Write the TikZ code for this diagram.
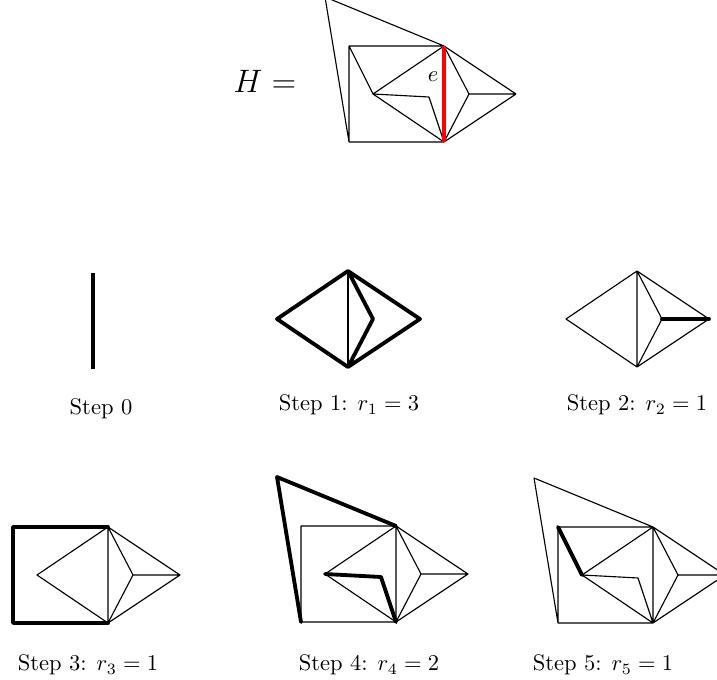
\documentclass[tikz,border=0pt]{standalone}
\newcommand\gverts[3]{%
  \begin{scope}[shift={(#2,#3)}]
    \coordinate (#1u) at (0,0);
    \coordinate (#1v) at (0,96);
    \coordinate (#1a) at (-71,48);
    \coordinate (#1b) at (-15,51);
    \coordinate (#1c) at (25,48);
    \coordinate (#1d) at (72,48);
    \coordinate (#1TL) at (-95,0);
    \coordinate (#1BL) at (-95,96);
    \coordinate (#1P) at (-119,-49);
  \end{scope}}
\begin{document}
\begin{tikzpicture}[x=0.444pt,y=-0.444pt,
  tn/.style={line width=0.5pt,line join=round},
  tk/.style={line width=1.7pt,line cap=round,line join=round},
  lbl/.style={inner sep=0pt,font=\normalsize}]
\useasboundingbox (0,0) rectangle (717,680);
\clip (0,0) rectangle (717,680);

% ---------- H ----------
\gverts{h}{444}{46}
\draw[tn] (hP)--(hu) (hP)--(hBL) (hTL)--(hu) (hTL)--(hBL) (hBL)--(hv)
  (hTL)--(ha) (ha)--(hu) (ha)--(hb) (hb)--(hv) (ha)--(hv)
  (hu)--(hc) (hc)--(hv) (hc)--(hd) (hu)--(hd) (hd)--(hv);
\draw[line width=1.7pt,red] (hu)--(hv);
\node[inner sep=0pt] (elbl) at (433,77) {$e$};
\node[inner sep=0pt,font=\fontsize{15}{18}\selectfont] (Hlbl) at (265,81) {$H =$};

% ---------- Step 0 ----------
\coordinate (z0t) at (93,273);
\coordinate (z0b) at (93,369);
\draw[tk,line cap=butt] (z0t)--(z0b);
\node[lbl] (l0) at (101,409) {Step 0};

% ---------- Step 1 ----------
\gverts{s}{348}{271}
\draw[tn] (su)--(sv);
\draw[tk] (su)--(sa)--(sv) (su)--(sc)--(sv) (su)--(sd)--(sv);
\node[lbl] (l1) at (349,405) {Step 1: $r_1 = 3$};

% ---------- Step 2 ----------
\gverts{t}{637}{271}
\draw[tn] (tu)--(ta)--(tv) (tu)--(tv) (tu)--(tc)--(tv) (tu)--(td)--(tv);
\draw[tk] (tc)--(td);
\node[lbl] (l2) at (637,405) {Step 2: $r_2 = 1$};

% ---------- Step 3 ----------
\gverts{w}{108}{527}
\draw[tn] (wu)--(wa)--(wv) (wu)--(wv) (wu)--(wc)--(wv) (wu)--(wd)--(wv) (wc)--(wd);
\draw[tk] (wu)--(wTL)--(wBL)--(wv);
\node[lbl] (l3) at (88,665) {Step 3: $r_3 = 1$};

% ---------- Step 4 ----------
\gverts{x}{396}{526}
\draw[tn] (xu)--(xa)--(xv) (xu)--(xv) (xu)--(xc)--(xv) (xu)--(xd)--(xv) (xc)--(xd)
  (xu)--(xTL)--(xBL)--(xv);
\draw[tk] (xu)--(xP)--(xBL) (xa)--(xb)--(xv);
\node[lbl] (l4) at (369,665) {Step 4: $r_4 = 2$};

% ---------- Step 5 ----------
\gverts{y}{653}{527}
\draw[tn] (yu)--(ya)--(yv) (yu)--(yv) (yu)--(yc)--(yv) (yu)--(yd)--(yv) (yc)--(yd)
  (yu)--(yTL)--(yBL)--(yv) (yu)--(yP)--(yBL) (ya)--(yb)--(yv);
\draw[tk] (yTL)--(ya);
\node[lbl] (l5) at (603,665) {Step 5: $r_5 = 1$};
\end{tikzpicture}
\end{document}
